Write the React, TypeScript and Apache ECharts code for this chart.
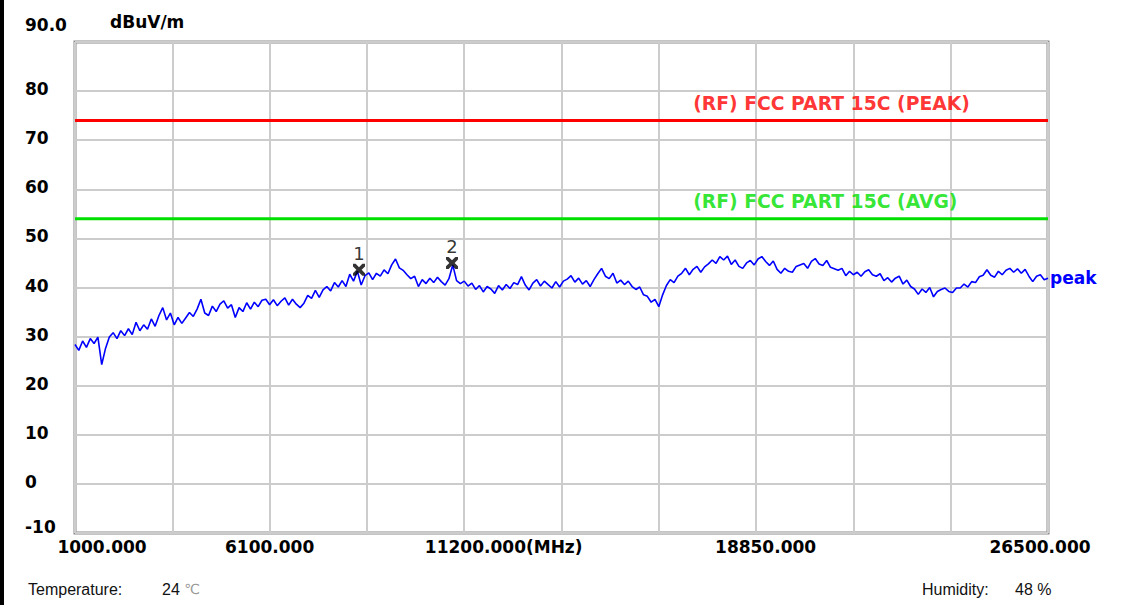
import React, { useEffect, useRef } from 'react';
import * as echarts from 'echarts';

// ---- data ----
const START_MHZ = 1000;
const STOP_MHZ = 26500;
const STEP_MHZ = 100;
const X_TICK_STEP = 2550;
const X_TICK_INDEX = [0, 2, 4, 7, 10];
const X_TICK_TEXT = ['1000.000', '6100.000', '11200.000(MHz)', '18850.000', '26500.000'];

const Y_MIN = -10;
const Y_MAX = 90;
const Y_STEP = 10;
const Y_UNIT = 'dBuV/m';

const PEAK_VALUES = [
  28.4, 27.2, 29.1, 27.8, 29.6, 28.6, 29.9, 24.3, 27.6, 29.9,
  30.8, 29.6, 31.2, 30.2, 31.6, 30.4, 32.9, 31.2, 32.4, 31.5,
  33.6, 32.1, 34.3, 35.9, 33.4, 34.8, 32.4, 33.9, 32.7, 33.8,
  34.9, 34.1, 35.6, 37.6, 34.8, 34.3, 36.2, 35.1, 36.6, 37.3,
  35.8, 36.5, 33.9, 35.9, 35.1, 36.9, 35.6, 37.0, 36.1, 37.4,
  37.6, 36.5, 37.5, 36.3, 37.2, 37.9, 36.4, 37.6, 36.6, 35.9,
  36.8, 38.4, 37.8, 39.4, 38.0, 39.5, 40.2, 39.3, 41.0, 40.1,
  41.4, 40.2, 42.7, 41.3, 43.3, 40.5, 42.4, 43.0, 41.6, 42.9,
  42.3, 43.6, 42.8, 44.6, 45.8, 44.0, 43.5, 42.6, 41.8, 42.3,
  40.2, 41.6, 40.8, 41.9, 41.0, 42.1, 41.2, 40.5, 41.8, 44.6,
  41.4, 40.8, 41.3, 40.3, 40.9, 39.6, 40.4, 39.1, 40.2, 39.7,
  38.8, 40.4, 39.5, 40.6, 39.8, 41.0, 40.6, 42.2, 40.5, 39.5,
  40.9, 41.6, 40.3, 41.3, 40.6, 39.9, 41.2, 40.1, 41.3, 41.7,
  42.4, 41.1, 41.9, 40.7, 41.4, 40.2, 41.6, 42.8, 43.9, 42.3,
  41.8, 42.9, 40.9, 41.5, 40.6, 41.3, 40.2, 39.6, 40.1, 38.5,
  38.2, 37.0, 37.6, 36.1, 38.5, 40.4, 41.6, 41.0, 42.3, 42.9,
  43.9, 42.6, 43.7, 44.3, 43.1, 44.2, 44.8, 45.6, 44.9, 46.3,
  45.6, 46.4, 44.7, 45.6, 44.3, 43.9, 45.0, 45.5, 44.6, 45.8,
  46.3, 45.3, 44.5, 45.4, 43.7, 42.9, 43.9, 43.3, 43.1, 44.3,
  44.6, 44.9, 43.9, 45.3, 45.9, 44.8, 44.5, 45.5, 44.1, 43.8,
  43.5, 43.9, 42.4, 43.3, 42.6, 43.1, 42.3, 43.2, 43.6, 42.6,
  42.3, 42.8, 41.4, 42.0, 41.1, 41.9, 42.3, 40.7, 41.5, 40.2,
  39.7, 38.6, 39.7, 39.0, 40.0, 38.1, 39.2, 39.6, 39.9, 39.2,
  39.0, 39.9, 39.9, 40.7, 40.1, 41.2, 41.0, 42.2, 42.5, 43.6,
  42.5, 42.1, 43.3, 42.6, 43.5, 43.9, 43.1, 43.8, 42.9, 43.7,
  42.3, 41.2, 42.3, 42.6, 41.6, 41.9,
];
const TRACE_NAME = 'peak';

const LIMIT_NAMES = ['(RF) FCC PART 15C (PEAK)', '(RF) FCC PART 15C (AVG)'];
const LIMIT_LEVELS = [74, 54];
const LIMIT_COLORS = ['#ff0000', '#00e000'];
const LIMIT_LABEL_MHZ = 17200;

const MARKER_LABELS = ['1', '2'];
const MARKER_MHZ = [8443, 10880];
const MARKER_LEVELS = [43.6, 45.0];

const TEMPERATURE = '24';
const HUMIDITY = '48';

// ---- helpers ----
const toAxis = (mhz: number) => mhz - START_MHZ;
const AXIS_FONT = '"DejaVu Sans", sans-serif';
const X_PAD: Record<number, string> = { 0: 'l54', 4: 'l79', 7: 'l19', 10: 'r16' };
const X_SYMBOL =
  'path://M0,0 L2.2,0 L5,2.8 L7.8,0 L10,0 L10,2.2 L7.2,5 L10,7.8 L10,10 L7.8,10 L5,7.2 L2.2,10 L0,10 L0,7.8 L2.8,5 L0,2.2 Z';

export default function App() {
  const ref = useRef<HTMLDivElement>(null);

  useEffect(() => {
    if (!ref.current) return;
    const chart = echarts.init(ref.current, undefined, { renderer: 'svg' });

    const traceData = PEAK_VALUES.map((v, i) => [toAxis(START_MHZ + i * STEP_MHZ), v]);

    const xFormatter = (v: number) => {
      const idx = Math.round(v / X_TICK_STEP);
      const k = X_TICK_INDEX.indexOf(idx);
      if (k < 0) return '';
      const pad = X_PAD[idx];
      const text = X_TICK_TEXT[k];
      if (!pad) return text;
      const w = pad.slice(1);
      return pad[0] === 'l' ? `{w${w}| }${text}` : `${text}{w${w}| }`;
    };

    const option: any = {
      animation: false,
      backgroundColor: '#ffffff',
      grid: {
        left: 75,
        top: 42,
        right: 84,
        bottom: 72,
        show: true,
        borderColor: '#8a8a8a',
        borderWidth: 3,
        backgroundColor: '#ffffff',
      },
      xAxis: {
        type: 'value',
        min: 0,
        max: toAxis(STOP_MHZ),
        interval: X_TICK_STEP,
        axisLine: { show: false },
        axisTick: { show: false },
        splitLine: { show: true, lineStyle: { color: '#cccccc', width: 2 } },
        axisLabel: {
          showMinLabel: true,
          showMaxLabel: true,
          margin: 5,
          color: '#000',
          fontFamily: AXIS_FONT,
          fontWeight: 'bold',
          fontSize: 17,
          formatter: xFormatter,
          rich: {
            w54: { width: 54 },
            w79: { width: 79 },
            w19: { width: 19 },
            w16: { width: 16 },
          },
        },
      },
      yAxis: {
        type: 'value',
        min: Y_MIN,
        max: Y_MAX,
        interval: Y_STEP,
        name: Y_UNIT,
        nameLocation: 'end',
        nameGap: 12,
        nameTextStyle: {
          align: 'left',
          padding: [0, 0, 0, 35],
          color: '#000',
          fontFamily: AXIS_FONT,
          fontWeight: 'bold',
          fontSize: 17,
        },
        axisLine: { show: false },
        axisTick: { show: false },
        splitLine: { show: true, lineStyle: { color: '#cccccc', width: 2 } },
        axisLabel: {
          showMinLabel: true,
          showMaxLabel: true,
          align: 'left',
          margin: 50,
          color: '#000',
          fontFamily: AXIS_FONT,
          fontWeight: 'bold',
          fontSize: 17,
          formatter: (v: number) => {
            if (v === Y_MAX) return `{top|${v.toFixed(1)}}`;
            if (v === Y_MIN) return `{bot|${v}}`;
            return `{n|${v}}`;
          },
          rich: {
            top: { padding: [0, 0, 34, 0] },
            bot: { padding: [0, 0, 12, 0] },
            n: { padding: [0, 0, 4, 0] },
          },
        },
      },
      series: [
        ...LIMIT_LEVELS.map((lvl, i) => ({
          type: 'line',
          name: LIMIT_NAMES[i],
          data: [
            [0, lvl],
            [toAxis(STOP_MHZ), lvl],
          ],
          showSymbol: false,
          symbol: 'none',
          lineStyle: { color: LIMIT_COLORS[i], width: 3 },
          z: 2,
          silent: true,
        })),
        {
          type: 'scatter',
          name: 'limit-labels',
          data: LIMIT_LEVELS.map((lvl, i) => ({
            value: [toAxis(LIMIT_LABEL_MHZ), lvl],
            label: { color: LIMIT_COLORS[i], formatter: LIMIT_NAMES[i] },
          })),
          symbol: 'circle',
          symbolSize: 1,
          itemStyle: { color: 'rgba(0,0,0,0)' },
          label: {
            show: true,
            position: 'top',
            align: 'left',
            distance: 7,
            fontFamily: AXIS_FONT,
            fontWeight: 'bold',
            fontSize: 18.8,
          },
          z: 3,
          silent: true,
        },
        {
          type: 'line',
          name: TRACE_NAME,
          data: traceData,
          showSymbol: false,
          symbol: 'none',
          lineStyle: { color: '#0000ff', width: 1.6 },
          endLabel: {
            show: true,
            formatter: TRACE_NAME,
            color: '#0000ff',
            fontFamily: AXIS_FONT,
            fontWeight: 'bold',
            fontSize: 17,
            distance: 2,
          },
          z: 4,
          silent: true,
        },
        {
          type: 'scatter',
          name: 'markers',
          data: MARKER_LABELS.map((lab, i) => ({
            value: [toAxis(MARKER_MHZ[i]), MARKER_LEVELS[i]],
            label: { formatter: lab },
          })),
          symbol: X_SYMBOL,
          symbolSize: [12, 12],
          itemStyle: { color: '#000000' },
          label: {
            show: true,
            position: 'top',
            distance: 1,
            color: '#000',
            fontFamily: AXIS_FONT,
            fontSize: 18,
          },
          z: 5,
          silent: true,
        },
      ],
      graphic: [
        { type: 'rect', left: 0, top: 0, shape: { width: 4, height: 605 }, style: { fill: '#000' } },
        {
          type: 'text',
          left: 28,
          top: 581,
          style: { text: 'Temperature:', font: '16px "Liberation Sans", Arial, sans-serif', fill: '#111' },
        },
        {
          type: 'text',
          left: 162,
          top: 581,
          style: {
            text: `${TEMPERATURE} {c|℃}`,
            font: '16px "Liberation Sans", Arial, sans-serif',
            fill: '#111',
            rich: { c: { fill: '#999', font: '14px "DejaVu Sans", sans-serif' } },
          },
        },
        {
          type: 'text',
          left: 922,
          top: 581,
          style: { text: 'Humidity:', font: '16px "Liberation Sans", Arial, sans-serif', fill: '#111' },
        },
        {
          type: 'text',
          left: 1015,
          top: 581,
          style: { text: `${HUMIDITY} %`, font: '16px "Liberation Sans", Arial, sans-serif', fill: '#111' },
        },
      ],
    };

    chart.setOption(option);
    return () => chart.dispose();
  }, []);

  return (
    <div
      ref={ref}
      style={{ position: 'fixed', left: 0, top: 0, width: 1132, height: 605, background: '#fff' }}
    />
  );
}
